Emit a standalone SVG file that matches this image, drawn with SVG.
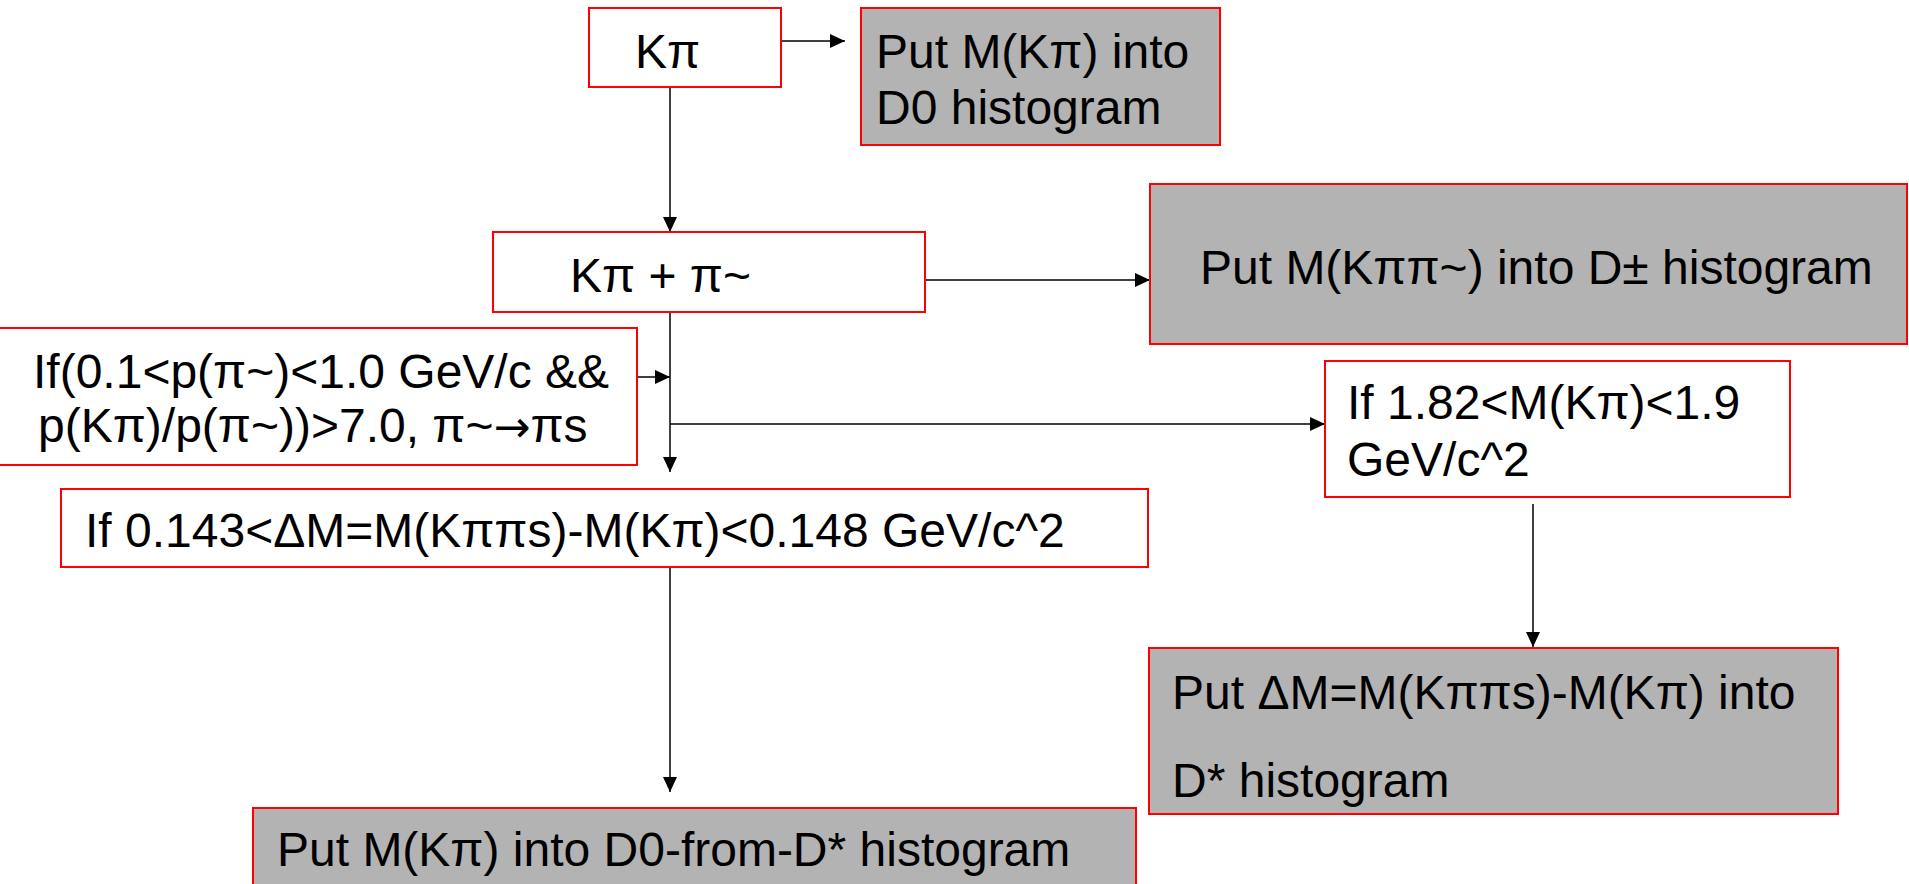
<svg xmlns="http://www.w3.org/2000/svg" width="1909" height="884" viewBox="0 0 1909 884">
<style>
.box{fill:#ffffff;stroke:#ff0000;stroke-width:2}
.gray{fill:#b3b3b3;stroke:#ff0000;stroke-width:2}
.t{font-family:"Liberation Sans",Arial,sans-serif;font-size:48px;fill:#000000}
.arr{font-family:"DejaVu Sans",sans-serif;font-size:44px}
.c{stroke:#000000;stroke-width:1.5;fill:none;marker-end:url(#ah)}
</style>
<defs>
<marker id="ah" markerUnits="userSpaceOnUse" markerWidth="16" markerHeight="14" refX="15" refY="7" orient="auto">
<path d="M0,0 L15,7 L0,14 z" fill="#000000"/>
</marker>
</defs>
<rect width="1909" height="884" fill="#ffffff"/>
<g id="connectors">
<line class="c" x1="781" y1="41" x2="845" y2="41"/>
<line class="c" x1="670" y1="87" x2="670" y2="232"/>
<line class="c" x1="925" y1="280" x2="1150" y2="280"/>
<line class="c" x1="670" y1="312" x2="670" y2="472"/>
<line class="c" x1="637" y1="377" x2="670" y2="377"/>
<line class="c" x1="670" y1="424" x2="1325" y2="424"/>
<line class="c" x1="670" y1="567" x2="670" y2="792"/>
<line class="c" x1="1533" y1="504" x2="1533" y2="647"/>
</g>
<g id="n1"><rect class="box" x="589" y="8" width="192" height="79"/><text class="t" x="635" y="68">Kπ</text></g>
<g id="n2"><rect class="gray" x="861" y="8" width="359" height="137"/><text class="t" x="876" y="68">Put M(Kπ) into</text><text class="t" x="876" y="124">D0 histogram</text></g>
<g id="n3"><rect class="box" x="493" y="232" width="432" height="80"/><text class="t" x="570" y="292">Kπ + π~</text></g>
<g id="n4"><rect class="gray" x="1150" y="184" width="757" height="160"/><text class="t" x="1200" y="284">Put M(Kππ~) into D± histogram</text></g>
<g id="n5"><rect class="box" x="-4" y="328" width="641" height="137"/><text class="t" x="33" y="388">If(0.1&lt;p(π~)&lt;1.0 GeV/c &amp;&amp;</text><text class="t" x="38" y="442">p(Kπ)/p(π~))&gt;7.0, π~<tspan class="arr">→</tspan>πs</text></g>
<g id="n6"><rect class="box" x="61" y="489" width="1087" height="78"/><text class="t" x="85" y="547">If 0.143&lt;ΔM=M(Kππs)-M(Kπ)&lt;0.148 GeV/c^2</text></g>
<g id="n7"><rect class="box" x="1325" y="361" width="465" height="136"/><text class="t" x="1347" y="419">If 1.82&lt;M(Kπ)&lt;1.9</text><text class="t" x="1347" y="476">GeV/c^2</text></g>
<g id="n8"><rect class="gray" x="1149" y="648" width="689" height="166"/><text class="t" x="1172" y="709">Put ΔM=M(Kππs)-M(Kπ) into</text><text class="t" x="1172" y="797">D* histogram</text></g>
<g id="n9"><rect class="gray" x="253" y="808" width="883" height="90"/><text class="t" x="277" y="866">Put M(Kπ) into D0-from-D* histogram</text></g>
</svg>
